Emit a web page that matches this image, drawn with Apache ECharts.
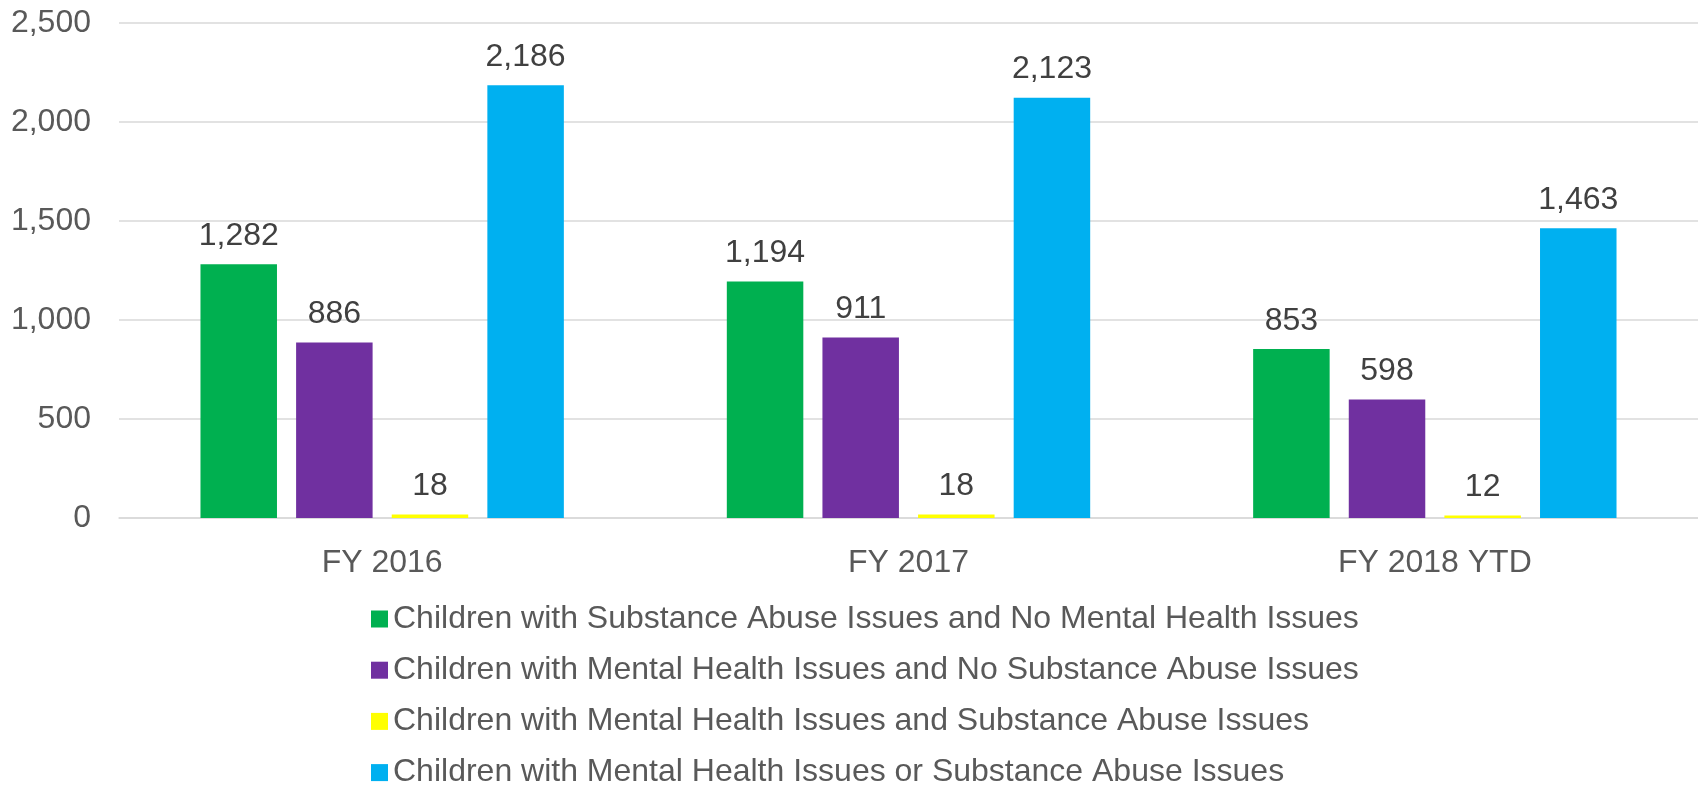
<!DOCTYPE html>
<html>
<head>
<meta charset="utf-8">
<script src="https://cdn.jsdelivr.net/npm/echarts@6/dist/echarts.min.js"></script>
<style>
html,body{margin:0;padding:0;background:#fff;}
#chart{width:1698px;height:786px;}
</style>
</head>
<body>
<div id="chart"></div>
<script>
const categories = ['FY 2016', 'FY 2017', 'FY 2018 YTD'];
const seriesNames = [
  'Children with Substance Abuse Issues and No Mental Health Issues',
  'Children with Mental Health Issues and No Substance Abuse Issues',
  'Children with Mental Health Issues and Substance Abuse Issues',
  'Children with Mental Health Issues or Substance Abuse Issues'
];
const substanceOnly = [1282, 1194, 853];
const mentalOnly = [886, 911, 598];
const both = [18, 18, 12];
const either = [2186, 2123, 1463];
const colors = ['#00B050', '#7030A0', '#FFFF00', '#00B0F0'];

const FONT = '"Liberation Sans", Arial, sans-serif';
const seriesData = [substanceOnly, mentalOnly, both, either];

const chart = echarts.init(document.getElementById('chart'), null, {renderer: 'canvas'});
chart.setOption({
  animation: false,
  textStyle: {fontFamily: FONT},
  grid: {left: 119, right: 0, top: 23, bottom: 268, containLabel: false},
  legend: seriesNames.map((name, i) => ({
    orient: 'vertical',
    left: 371,
    top: 603 + i * 51.2,
    padding: 0,
    itemWidth: 17,
    itemHeight: 17,
    icon: 'rect',
    textStyle: {fontFamily: FONT, fontSize: 32, lineHeight: 32, color: '#595959'},
    data: [name]
  })),
  xAxis: {
    type: 'category',
    data: categories,
    axisLine: {show: true, lineStyle: {color: '#d9d9d9', width: 1.5}},
    axisTick: {show: false},
    axisLabel: {fontFamily: FONT, fontSize: 32, color: '#595959', margin: 29}
  },
  yAxis: {
    type: 'value',
    min: 0,
    max: 2500,
    interval: 500,
    axisLine: {show: false},
    axisTick: {show: false},
    splitLine: {lineStyle: {color: '#d9d9d9', width: 1.5}},
    axisLabel: {
      fontFamily: FONT, fontSize: 32, color: '#595959', margin: 28,
      formatter: v => v.toLocaleString('en-US')
    }
  },
  series: seriesNames.map((name, i) => ({
    name: name,
    type: 'bar',
    data: seriesData[i],
    barWidth: 76.5,
    barGap: '25%',
    itemStyle: {color: colors[i]},
    label: {
      show: true,
      position: 'top',
      distance: 12,
      fontFamily: FONT,
      fontSize: 32,
      color: '#404040',
      formatter: p => p.value.toLocaleString('en-US')
    }
  }))
});
</script>
</body>
</html>
